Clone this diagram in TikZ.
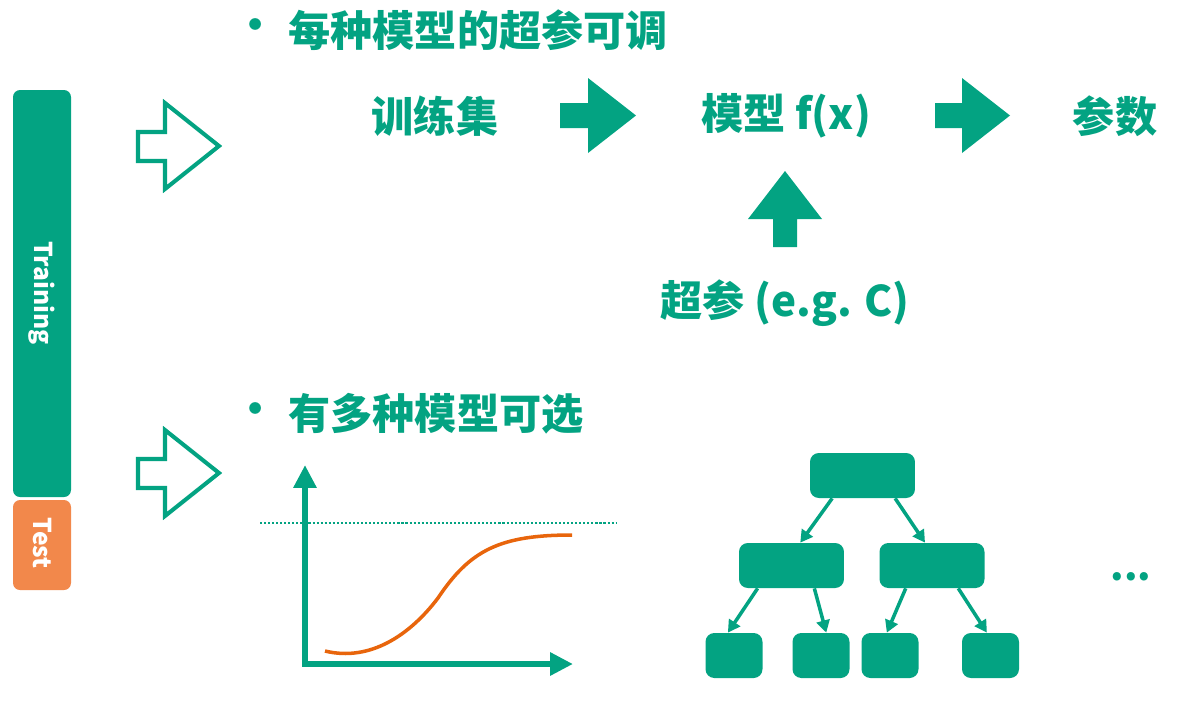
\documentclass[tikz,border=0pt]{standalone}
\usepackage{fontspec}
\setmainfont{Noto Sans CJK SC}
\usepackage{tikz}
\usetikzlibrary{arrows.meta}
\definecolor{tgreen}{HTML}{03A382}
\definecolor{tsplit}{HTML}{F2884B}
\definecolor{tcurve}{HTML}{E8650C}

\begin{document}
\begin{tikzpicture}[
  x=0.02cm, y=-0.02cm,
  lbl/.style={font=\fontsize{24}{24}\selectfont\bfseries, text=tgreen, inner sep=0pt},
  barlbl/.style={font=\fontsize{14}{14}\selectfont\bfseries, text=white, rotate=-90, inner sep=0pt},
  trainbar/.style={fill=tgreen, rounded corners=4pt},
  testbar/.style={fill=tsplit, rounded corners=4pt},
  hollow/.style={draw=tgreen, line width=2.3pt},
  solid/.style={fill=tgreen},
  axis/.style={draw=tgreen, line width=3.4pt, line join=miter,
    {Triangle[length=13pt,width=12.5pt]}-{Triangle[length=13pt,width=12.5pt]}},
  curve/.style={draw=tcurve, line width=2pt},
  ghost/.style={draw=tgreen, line width=1.5pt, dash pattern=on 1.2pt off 1.1pt},
  treebox/.style={fill=tgreen, rounded corners=5pt, minimum width=2.1cm, minimum height=0.9cm},
  leafbox/.style={fill=tgreen, rounded corners=5pt, minimum width=1.14cm, minimum height=0.9cm},
  lnk/.style={draw=tgreen, line width=2pt, -{Triangle[length=7pt,width=7.5pt]}},
]
\useasboundingbox (0,0) rectangle (1197,701);

% data split
\fill[trainbar] (13,90) rectangle (71,497);
\fill[testbar] (13,500) rectangle (71,590);
\node[barlbl] (train) at (42,293) {Training};
\node[barlbl] (test) at (42,543) {Test};

% hollow arrows
\draw[hollow] (138,132) -- (165,132) -- (165,103) -- (219,146) -- (165,189) -- (165,161) -- (138,161) -- cycle;
\draw[hollow] (138,459) -- (165,459) -- (165,430) -- (219,473) -- (165,516) -- (165,488) -- (138,488) -- cycle;

% first row
\node[lbl] (dot1) at (256,30) {•};
\node[lbl,anchor=west] (head1) at (288,30) {每种模型的超参可调};
\node[lbl] (tset) at (435,116) {训练集};
\node[lbl] (model) at (786,116) {模型~f(x)};
\node[lbl] (param) at (1115,116) {参数};
\node[lbl] (hyper) at (785,303) {超参 (e.g. C)};
\fill[solid] (560,103) -- (588,103) -- (588,78) -- (636,115.5) -- (588,153) -- (588,128) -- (560,128) -- cycle;
\fill[solid] (935,103) -- (962,103) -- (962,78) -- (1010,115.5) -- (962,153) -- (962,128) -- (935,128) -- cycle;
\fill[solid] (773,247) -- (773,219) -- (748,219) -- (785,171) -- (822,219) -- (797,219) -- (797,247) -- cycle;

% second row
\node[lbl] (dot2) at (256,414) {•};
\node[lbl,anchor=west] (head2) at (288,414) {有多种模型可选};

% curve plot
\coordinate (ytop) at (305,465);
\coordinate (org) at (305,664);
\coordinate (xend) at (573,664);
\draw[ghost] (260,523) -- (617,523);
\draw[axis] (ytop) -- (org) -- (xend);
\draw[curve] (325,651) .. controls (370,662) and (410,635) .. (438,598)
  .. controls (470,550) and (500,535) .. (572,535);

% tree
\node[treebox] (root) at (862.5,475.5) {};
\node[treebox] (midl) at (791.5,565.5) {};
\node[treebox] (midr) at (932,565.5) {};
\node[leafbox] (leaf1) at (734,655.5) {};
\node[leafbox] (leaf2) at (821,655.5) {};
\node[leafbox] (leaf3) at (890,655.5) {};
\node[leafbox] (leaf4) at (990.5,655.5) {};
\draw[lnk] (root.217) -- (midl.69);
\draw[lnk] (root.325) -- (midr.107);
\draw[lnk] (midl.214) -- (leaf1.105);
\draw[lnk] (midl.315) -- (leaf2.77);
\draw[lnk] (midr.221) -- (leaf3.98);
\draw[lnk] (midr.319) -- (leaf4.99);
\node[lbl,font=\fontsize{22}{22}\selectfont\bfseries] (more) at (1131,577) {...};
\end{tikzpicture}
\end{document}
